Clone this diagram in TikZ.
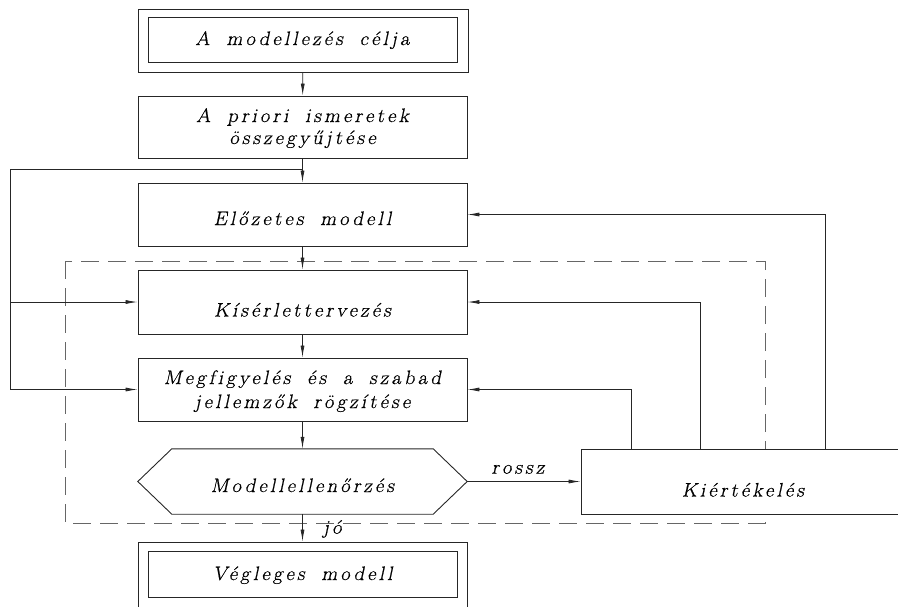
\documentclass[tikz,border=0pt]{standalone}
\usepackage{fontspec}
\setmainfont{Latin Modern Roman}
\newfontfamily\labelfont{Latin Modern Roman}[FakeSlant=0.22, FakeBold=0.8, FakeStretch=1.04,
  LetterSpace=17, WordSpace=1.8, Ligatures=NoCommon]
\usetikzlibrary{arrows.meta,calc}

\begin{document}
\begin{tikzpicture}[x=1pt,y=-1pt,
  every node/.style={font=\labelfont\fontsize{19.5}{22}\selectfont},
  box/.style={draw=black!85, line width=0.9pt, fill=white, minimum width=329pt,
    minimum height=63pt, inner sep=0pt, align=center},
  % baseline set #1/2 below the box centre
  drop/.style={text height=#1, text depth=0pt},
  flow/.style={draw=black!85, line width=0.8pt},
  arr/.style={flow, -{Latex[length=12pt,width=4pt]}},
  frame/.style={draw=black!60, line width=0.9pt, dash pattern=on 18pt off 9pt}]
\useasboundingbox (0,0) rectangle (898,606);
\clip (0,0) rectangle (898,606);

% dashed boundary of the experimental loop
\draw[frame] (65,261) rectangle (765,523);

% process steps
\node[box, minimum width=330pt] (goal) at (303,40.5) {};
\node[box, minimum width=309pt, minimum height=45pt, drop=11pt] (goalin) at (302.5,39.5) {A modellezés célja};
\node[box, minimum height=62pt] (prior) at (302.5,127) {\rule{0pt}{16pt}A priori ismeretek\\összegyűjtése};
\node[box, drop=21pt] (prelim) at (302.5,214.5) {Előzetes modell};
\node[box, minimum height=64pt, drop=29pt] (design) at (302.5,302) {Kísérlettervezés};
\node[box] (observe) at (302.5,389.5) {\rule{0pt}{17pt}Megfigyelés és a szabad\\[2pt]jellemzők rögzítése};
\node[minimum width=329pt, minimum height=65pt, inner sep=0pt, drop=21pt] (check) at (302.5,481.5) {Modellellenőrzés};
\draw[flow, line width=0.9pt] (check.west) -- ($(check.north west)+(34,0)$) -- ($(check.north east)+(-34,0)$)
  -- (check.east) -- ($(check.south east)+(-34,0)$) -- ($(check.south west)+(34,0)$) -- cycle;
\node[box, minimum width=324pt, minimum height=65pt, drop=30pt] (eval) at (743,481.5) {Kiértékelés};
\node[box, minimum height=66pt] (final) at (302.5,575) {};
\node[box, minimum width=309pt, minimum height=46pt, drop=12pt] (finalin) at (302.5,574) {Végleges modell};

% main flow
\draw[arr] (goal) -- (prior);
\draw[arr] (prior) -- (prelim);
\draw[arr] (prelim) -- (design);
\draw[arr] (design) -- (observe);
\draw[arr] (observe) -- (check);
\draw[arr] (check.south) -- (final.north) node[midway, anchor=west, xshift=17pt, yshift=-1pt] {jó};
\draw[arr] (check.east) -- (eval.west) node[midway, above, xshift=-6pt, yshift=4pt] {rossz};

% loop back from the a priori knowledge
\coordinate (tap) at (302.5,169);
\coordinate (loopL) at (10,169);
\draw[arr] (tap) -- (loopL) |- (observe.west);
\draw[arr] (loopL |- design.west) -- (design.west);

% feedback from the evaluation
\draw[arr] ([xshift=51pt]eval.north west) |- (observe.east);
\draw[arr] ([xshift=120pt]eval.north west) |- (design.east);
\draw[arr] ([xshift=245pt]eval.north west) |- (prelim.east);
\end{tikzpicture}
\end{document}
